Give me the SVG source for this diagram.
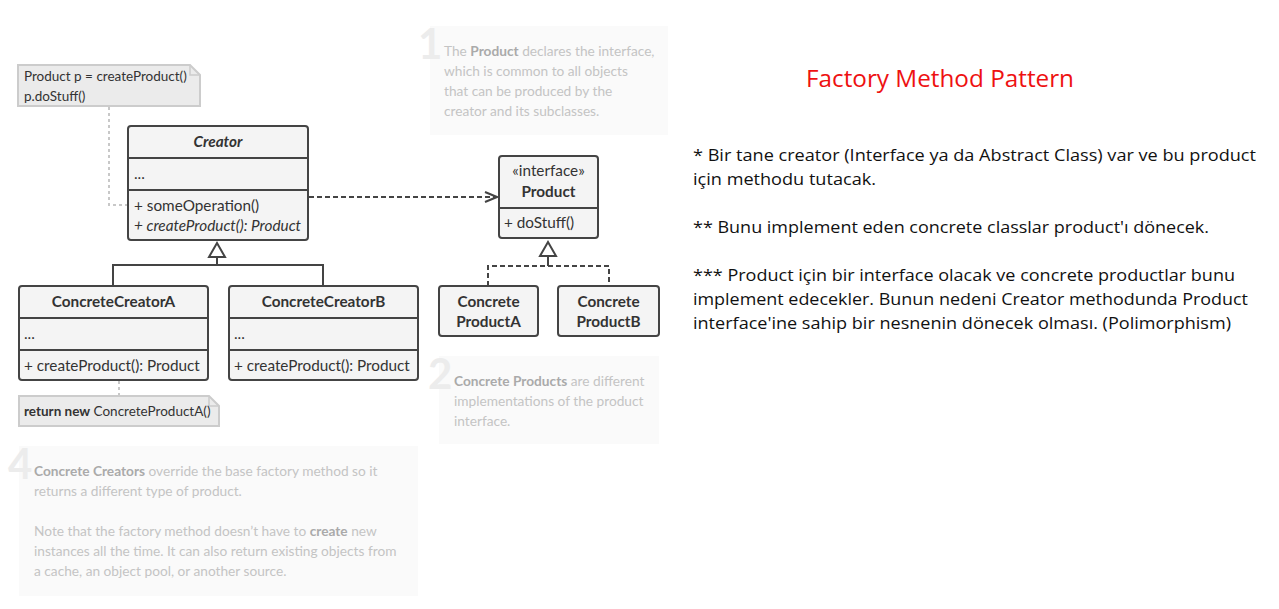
<svg xmlns="http://www.w3.org/2000/svg" width="1279" height="609" viewBox="0 0 1279 609">
<defs>
<style>
.box{fill:#f4f4f4;stroke:#444;stroke-width:2}
.div{stroke:#444;stroke-width:2;fill:none}
.t{font-family:Lato,"Noto Sans",sans-serif;font-size:15.3px;fill:#333}
.b{font-weight:bold}
.i{font-style:italic}
.panel{fill:#fafafa}
.pt{font-family:Lato,"Noto Sans",sans-serif;font-size:13.7px;fill:#c4c4c4}
.pb{font-weight:bold;fill:#aaaaaa}
.dig{font-family:Lato,"Noto Sans",sans-serif;font-size:42px;font-weight:bold;fill:#ececec}
.note{fill:#ebebeb;stroke:#cccccc;stroke-width:2}
.nt{font-family:Lato,"Noto Sans",sans-serif;font-size:13.5px;fill:#333}
.dot{stroke:#c8c8c8;stroke-width:2;stroke-dasharray:3,3;fill:none}
.conn{stroke:#444;stroke-width:2;fill:none}
.dash{stroke:#444;stroke-width:2;stroke-dasharray:5,3;fill:none}
.rt{font-family:"Open Sans","Noto Sans",sans-serif;font-size:16px;fill:#111}
</style>
<marker id="open" markerWidth="14" markerHeight="12" refX="13" refY="6" orient="auto" markerUnits="userSpaceOnUse">
<path d="M1,1 L13,6 L1,11" fill="none" stroke="#444" stroke-width="2"/>
</marker>
</defs>
<rect width="1279" height="609" fill="#ffffff"/>

<g id="panel1">
<rect class="panel" x="430" y="26" width="238" height="109"/>
<text class="dig" x="418" y="59">1</text>
<text class="pt" x="444" y="56">The <tspan class="pb">Product</tspan> declares the interface,</text>
<text class="pt" x="444" y="76">which is common to all objects</text>
<text class="pt" x="444" y="96">that can be produced by the</text>
<text class="pt" x="444" y="116">creator and its subclasses.</text>
</g>
<g id="panel2">
<rect class="panel" x="439" y="356" width="220" height="88"/>
<text class="dig" x="428" y="389">2</text>
<text class="pt" x="454" y="386"><tspan class="pb">Concrete Products</tspan> are different</text>
<text class="pt" x="454" y="406">implementations of the product</text>
<text class="pt" x="454" y="426">interface.</text>
</g>
<g id="panel4">
<rect class="panel" x="19" y="446" width="399" height="150"/>
<text class="dig" x="8" y="479">4</text>
<text class="pt" x="34" y="476"><tspan class="pb">Concrete Creators</tspan> override the base factory method so it</text>
<text class="pt" x="34" y="496">returns a different type of product.</text>
<text class="pt" x="34" y="536">Note that the factory method doesn’t have to <tspan class="pb">create</tspan> new</text>
<text class="pt" x="34" y="556">instances all the time. It can also return existing objects from</text>
<text class="pt" x="34" y="576">a cache, an object pool, or another source.</text>
</g>

<g id="connectors">
<path class="dot" d="M109,107 V205 H127"/>
<path class="dot" d="M119,381 V396"/>
<path class="dash" d="M309,197 H497" marker-end="url(#open)"/>
<path class="conn" d="M113,286 V265 H323 V286 M217,265 V257"/>
<path class="conn" d="M209,257 L217,243 L225,257 Z" fill="#fff"/>
<path class="dash" d="M488,286 V266 H609 V286"/>
<path class="conn" d="M548,266 V256"/>
<path class="conn" d="M540,256 L548,242 L556,256 Z" fill="#fff"/>
</g>

<g id="note1">
<path class="note" d="M18,65 H190 L200,75 V106 H18 Z"/>
<path d="M190,65 V75 H200" fill="none" stroke="#cccccc" stroke-width="1.5"/>
<text class="nt" x="24" y="81">Product p = createProduct()</text>
<text class="nt" x="24" y="101">p.doStuff()</text>
</g>

<g id="creator">
<rect class="box" x="128" y="126" width="180" height="114" rx="3"/>
<path class="div" d="M128,158 H308 M128,190 H308"/>
<text class="t b i" x="218" y="147" text-anchor="middle">Creator</text>
<text class="t" x="134" y="179">...</text>
<text class="t" x="134" y="211">+ someOperation()</text>
<text class="t i" x="134" y="231">+ createProduct(): Product</text>
</g>

<g id="product">
<rect class="box" x="499" y="156" width="99" height="82" rx="3"/>
<path class="div" d="M499,208 H598"/>
<text class="t" x="548.5" y="176" text-anchor="middle">«interface»</text>
<text class="t b" x="548.5" y="197" text-anchor="middle">Product</text>
<text class="t" x="504" y="228">+ doStuff()</text>
</g>

<g id="concreteCreatorA">
<rect class="box" x="19" y="286" width="189" height="94" rx="3"/>
<path class="div" d="M19,318 H208 M19,350 H208"/>
<text class="t b" x="113.5" y="307" text-anchor="middle">ConcreteCreatorA</text>
<text class="t" x="24" y="339">...</text>
<text class="t" x="24" y="371">+ createProduct(): Product</text>
</g>

<g id="concreteCreatorB">
<rect class="box" x="229" y="286" width="189" height="94" rx="3"/>
<path class="div" d="M229,318 H418 M229,350 H418"/>
<text class="t b" x="323.5" y="307" text-anchor="middle">ConcreteCreatorB</text>
<text class="t" x="234" y="339">...</text>
<text class="t" x="234" y="371">+ createProduct(): Product</text>
</g>

<g id="concreteProductA">
<rect class="box" x="439" y="286" width="99" height="50" rx="3"/>
<text class="t b" x="488.5" y="307" text-anchor="middle">Concrete</text>
<text class="t b" x="488.5" y="327" text-anchor="middle">ProductA</text>
</g>

<g id="concreteProductB">
<rect class="box" x="558" y="286" width="101" height="50" rx="3"/>
<text class="t b" x="608.5" y="307" text-anchor="middle">Concrete</text>
<text class="t b" x="608.5" y="327" text-anchor="middle">ProductB</text>
</g>

<g id="note2">
<path class="note" d="M19,396 H209 L219,406 V426 H19 Z"/>
<path d="M209,396 V406 H219" fill="none" stroke="#cccccc" stroke-width="1.5"/>
<text class="nt" x="24" y="416"><tspan font-weight="bold">return new</tspan> ConcreteProductA()</text>
</g>

<g id="description">
<text x="806" y="87" font-family="'Open Sans','Noto Sans',sans-serif" font-size="24" fill="#ee1111" textLength="268" lengthAdjust="spacingAndGlyphs">Factory Method Pattern</text>
<text class="rt" x="693" y="161" textLength="563" lengthAdjust="spacingAndGlyphs">* Bir tane creator (Interface ya da Abstract Class) var ve bu product</text>
<text class="rt" x="693" y="185" textLength="183" lengthAdjust="spacingAndGlyphs">için methodu tutacak.</text>
<text class="rt" x="693" y="233" textLength="516" lengthAdjust="spacingAndGlyphs">** Bunu implement eden concrete classlar product'ı dönecek.</text>
<text class="rt" x="693" y="281" textLength="542" lengthAdjust="spacingAndGlyphs">*** Product için bir interface olacak ve concrete productlar bunu</text>
<text class="rt" x="693" y="305" textLength="555" lengthAdjust="spacingAndGlyphs">implement edecekler. Bunun nedeni Creator methodunda Product</text>
<text class="rt" x="693" y="329" textLength="538" lengthAdjust="spacingAndGlyphs">interface'ine sahip bir nesnenin dönecek olması. (Polimorphism)</text>
</g>
</svg>
